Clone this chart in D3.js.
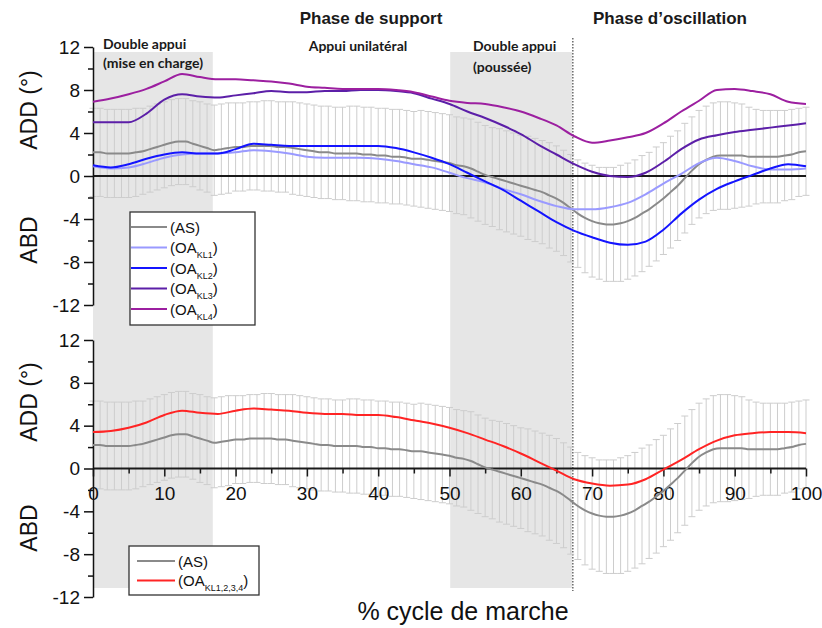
<!DOCTYPE html>
<html>
<head>
<meta charset="utf-8">
<script src="https://cdn.jsdelivr.net/npm/d3@7"></script>
<style>
  body { margin: 0; background: #fff; }
  svg { display: block; font-family: "Liberation Sans", Arial, sans-serif; }
</style>
</head>
<body>
<svg id="chart" width="822" height="628"></svg>
<script>
// Gait cycle, % (1 % steps for the asymptomatic group and its SD bars)
const cyclePct = d3.range(0, 101);

// Asymptomatic group (AS): mean hip adduction and standard deviation, degrees
const asMean = [
  2.2, 2.2, 2.1, 2.1, 2.1, 2.1, 2.2, 2.3, 2.5, 2.7,
  2.9, 3.1, 3.2, 3.2, 3.0, 2.8, 2.6, 2.4, 2.5, 2.6,
  2.7, 2.7, 2.8, 2.8, 2.8, 2.8, 2.7, 2.7, 2.6, 2.5,
  2.4, 2.3, 2.2, 2.2, 2.1, 2.1, 2.1, 2.1, 2.0, 2.0,
  1.9, 1.9, 1.8, 1.8, 1.7, 1.6, 1.6, 1.5, 1.4, 1.3,
  1.2, 1.0, 0.9, 0.7, 0.4, 0.1, -0.1, -0.3, -0.5, -0.7,
  -0.9, -1.1, -1.3, -1.5, -1.8, -2.1, -2.5, -3.0, -3.5, -3.9,
  -4.2, -4.4, -4.5, -4.5, -4.4, -4.2, -3.9, -3.5, -3.1, -2.6,
  -2.1, -1.5, -0.9, -0.2, 0.5, 1.1, 1.5, 1.8, 1.9, 1.9,
  1.9, 1.9, 1.8, 1.8, 1.8, 1.8, 1.8, 1.9, 2.0, 2.2,
  2.3
];
const asSD = [
  4.1, 4.1, 4.1, 4.1, 4.1, 4.1, 4.1, 4.0, 4.0, 4.0,
  4.0, 4.0, 4.0, 4.0, 4.0, 4.1, 4.1, 4.2, 4.2, 4.2,
  4.1, 4.1, 4.1, 4.1, 4.2, 4.2, 4.2, 4.2, 4.3, 4.3,
  4.3, 4.3, 4.3, 4.3, 4.3, 4.3, 4.4, 4.4, 4.4, 4.4,
  4.4, 4.4, 4.4, 4.4, 4.4, 4.4, 4.5, 4.5, 4.5, 4.5,
  4.5, 4.5, 4.5, 4.6, 4.6, 4.6, 4.6, 4.7, 4.7, 4.7,
  4.7, 4.8, 4.8, 4.8, 4.9, 4.9, 4.9, 5.0, 5.0, 5.1,
  5.2, 5.2, 5.3, 5.3, 5.4, 5.4, 5.4, 5.4, 5.3, 5.3,
  5.2, 5.2, 5.1, 5.1, 5.0, 5.0, 5.0, 5.0, 5.0, 5.0,
  4.9, 4.8, 4.6, 4.4, 4.3, 4.3, 4.3, 4.2, 4.2, 4.1,
  4.1
];

// Osteoarthritis groups (OA), sampled every 2.5 % of the cycle
const groupPct = d3.range(0, 100.1, 2.5);
const oaKL1 = [
  0.9, 0.7, 0.8, 1.2, 1.7, 2.0, 2.1, 2.1, 2.2, 2.4,
  2.3, 2.1, 1.8, 1.7, 1.7, 1.7, 1.6, 1.4, 1.1, 0.8,
  0.3, -0.2, -0.6, -1.2, -1.7, -2.3, -2.8, -3.1, -3.1, -2.9,
  -2.5, -1.7, -0.7, 0.2, 1.2, 1.7, 1.4, 0.9, 0.6, 0.6,
  0.7
];
const oaKL2 = [
  1.0, 0.8, 1.1, 1.6, 2.0, 2.2, 2.1, 2.1, 2.5, 3.0,
  2.9, 2.8, 2.8, 2.8, 2.8, 2.8, 2.8, 2.6, 2.2, 1.7,
  1.1, 0.3, -0.5, -1.3, -2.3, -3.3, -4.3, -5.1, -5.7, -6.2,
  -6.4, -6.1, -5.0, -3.5, -2.2, -1.2, -0.5, 0.1, 0.7, 1.1,
  0.9
];
const oaKL3 = [
  5.0, 5.0, 5.0, 5.8, 7.1, 7.6, 7.4, 7.3, 7.5, 7.7,
  7.9, 7.8, 7.8, 7.9, 7.9, 8.0, 8.0, 7.9, 7.7, 7.2,
  6.7, 6.0, 5.4, 4.7, 3.9, 2.9, 2.0, 1.1, 0.4, 0.0,
  -0.1, 0.3, 1.3, 2.5, 3.4, 3.8, 4.1, 4.3, 4.5, 4.7,
  4.9
];
const oaKL4 = [
  6.9, 7.2, 7.6, 8.1, 8.8, 9.5, 9.2, 9.0, 9.0, 8.9,
  8.8, 8.6, 8.3, 8.2, 8.1, 8.1, 8.1, 8.0, 7.8, 7.4,
  7.0, 6.8, 6.7, 6.4, 6.0, 5.4, 4.7, 3.7, 3.1, 3.3,
  3.6, 4.0, 4.9, 6.0, 7.0, 8.0, 8.1, 7.9, 7.6, 6.9,
  6.7
];
const oaAll = [
  3.4, 3.5, 3.8, 4.3, 5.0, 5.4, 5.2, 5.1, 5.4, 5.6,
  5.5, 5.4, 5.2, 5.1, 5.1, 5.0, 5.0, 4.8, 4.5, 4.2,
  3.8, 3.3, 2.7, 2.1, 1.4, 0.6, -0.2, -1.0, -1.4, -1.6,
  -1.5, -1.0, -0.1, 0.8, 1.8, 2.6, 3.1, 3.3, 3.4, 3.4,
  3.3
];

// Axis ticks
const yTicks = [-12, -8, -4, 0, 4, 8, 12];
const yMinorTicks = [-10, -6, -2, 2, 6, 10];
const xTicks = [0, 10, 20, 30, 40, 50, 60, 70, 80, 90, 100];
const xMinorTicks = [5, 15, 25, 35, 45, 55, 65, 75, 85, 95];

// Double-support periods and toe-off, % of cycle
const doubleSupport = [[0, 16.8], [50.1, 67.2]];
const toeOff = 67.3;

const svg = d3.select("#chart");
const x = d3.scaleLinear([0, 100], [93, 806]);
const yTop = d3.scaleLinear([-12, 12], [305, 47]);
const yBot = d3.scaleLinear([-12, 12], [597, 340]);

const colors = {
  AS: "#8a8a8a",
  KL1: "#9a9aff",
  KL2: "#1414ff",
  KL3: "#5c1fa8",
  KL4: "#9c1fa0",
  ALL: "#ff2424"
};

// Double-support shading spanning both panels
svg.append("g").selectAll("rect").data(doubleSupport).join("rect")
  .attr("x", d => x(d[0]))
  .attr("width", d => x(d[1]) - x(d[0]))
  .attr("y", 52)
  .attr("height", 536)
  .attr("fill", "#e6e6e6");

// Toe-off marker
svg.append("line")
  .attr("x1", x(toeOff)).attr("x2", x(toeOff))
  .attr("y1", 38).attr("y2", 591)
  .attr("stroke", "#444").attr("stroke-width", 1.2)
  .attr("stroke-dasharray", "1.5,1.5");

function drawPanel(y, series, withXAxis) {
  const g = svg.append("g");

  // SD bars of the asymptomatic group
  const bars = g.append("g").attr("stroke", "#cdcdcd").attr("stroke-width", 1);
  cyclePct.forEach((p, i) => {
    const lo = y(asMean[i] - asSD[i]);
    const hi = y(asMean[i] + asSD[i]);
    bars.append("line").attr("x1", x(p)).attr("x2", x(p)).attr("y1", lo).attr("y2", hi);
    bars.append("line").attr("x1", x(p) - 3.5).attr("x2", x(p) + 3.5).attr("y1", lo).attr("y2", lo);
    bars.append("line").attr("x1", x(p) - 3.5).attr("x2", x(p) + 3.5).attr("y1", hi).attr("y2", hi);
  });

  // Zero line
  g.append("line")
    .attr("x1", x(0)).attr("x2", x(100))
    .attr("y1", y(0)).attr("y2", y(0))
    .attr("stroke", "#1a1a1a").attr("stroke-width", 2);

  if (withXAxis) {
    const ax = g.append("g")
      .attr("transform", `translate(0,${y(0)})`)
      .call(d3.axisBottom(x).tickValues(xTicks).tickSize(8).tickSizeOuter(0)
        .tickPadding(10).tickFormat(d => String(d)));
    ax.select(".domain").remove();
    ax.selectAll("line").attr("stroke", "#1a1a1a").attr("stroke-width", 1.5);
    ax.selectAll("text").attr("font-size", 19).attr("fill", "#111")
      .attr("font-family", "Liberation Sans, Arial, sans-serif");
    const axm = g.append("g")
      .attr("transform", `translate(0,${y(0)})`)
      .call(d3.axisBottom(x).tickValues(xMinorTicks).tickSize(5).tickFormat(""));
    axm.select(".domain").remove();
    axm.selectAll("line").attr("stroke", "#1a1a1a").attr("stroke-width", 1.5);
  }

  // Y axis
  const ay = g.append("g")
    .attr("transform", `translate(${x(0)},0)`)
    .call(d3.axisLeft(y).tickValues(yTicks).tickSize(9).tickSizeOuter(0)
      .tickPadding(4).tickFormat(d => String(d)));
  ay.select(".domain").attr("stroke", "#111").attr("stroke-width", 1.5);
  ay.selectAll("line").attr("stroke", "#111").attr("stroke-width", 1.5);
  ay.selectAll("text").attr("font-size", 19).attr("fill", "#111")
    .attr("font-family", "Liberation Sans, Arial, sans-serif");
  const aym = g.append("g")
    .attr("transform", `translate(${x(0)},0)`)
    .call(d3.axisLeft(y).tickValues(yMinorTicks).tickSize(5).tickFormat(""));
  aym.select(".domain").remove();
  aym.selectAll("line").attr("stroke", "#111").attr("stroke-width", 1.5);

  // Mean curves
  const line = d3.line().curve(d3.curveMonotoneX);
  series.forEach(s => {
    g.append("path")
      .attr("d", line(s.pct.map((p, i) => [x(p), y(s.values[i])])))
      .attr("fill", "none")
      .attr("stroke", s.color)
      .attr("stroke-width", 2);
  });
}

const asSeries = { pct: cyclePct, values: asMean, color: colors.AS };
drawPanel(yTop, [
  asSeries,
  { pct: groupPct, values: oaKL1, color: colors.KL1 },
  { pct: groupPct, values: oaKL2, color: colors.KL2 },
  { pct: groupPct, values: oaKL3, color: colors.KL3 },
  { pct: groupPct, values: oaKL4, color: colors.KL4 }
], false);
drawPanel(yBot, [
  asSeries,
  { pct: groupPct, values: oaAll, color: colors.ALL }
], true);

// Y axis titles
function yTitle(text, cy) {
  svg.append("text")
    .attr("transform", `translate(37,${cy}) rotate(-90)`)
    .attr("text-anchor", "middle")
    .attr("font-size", 23).attr("fill", "#111")
    .text(text);
}
yTitle("ADD (°)", 110);
yTitle("ABD", 240);
yTitle("ADD (°)", 402);
yTitle("ABD", 528);

// X axis title
svg.append("text")
  .attr("x", 463).attr("y", 620)
  .attr("text-anchor", "middle")
  .attr("font-size", 25).attr("fill", "#111")
  .text("% cycle de marche");

// Phase headings
svg.append("text").attr("x", 371).attr("y", 24).attr("text-anchor", "middle")
  .attr("font-size", 17).attr("font-weight", "bold").attr("fill", "#1a1a1a")
  .text("Phase de support");
svg.append("text").attr("x", 670).attr("y", 24).attr("text-anchor", "middle")
  .attr("font-size", 17).attr("font-weight", "bold").attr("fill", "#1a1a1a")
  .text("Phase d’oscillation");

// Sub-phase notes
const note = (t, px, py, anchor) => svg.append("text")
  .attr("x", px).attr("y", py).attr("text-anchor", anchor || "start")
  .attr("font-family", "Lato, 'Open Sans', sans-serif")
  .attr("font-weight", "bold").attr("font-size", 14).attr("fill", "#1a1a1a")
  .text(t);
note("Double appui", 103, 49);
note("(mise en charge)", 103, 68);
note("Appui unilatéral", 358, 51, "middle");
note("Double appui", 473, 51);
note("(poussée)", 473, 72);

// Legends
function legend(box, items, lineX0, lineX1, textX, rowY, rowStep) {
  svg.append("rect")
    .attr("x", box[0]).attr("y", box[1]).attr("width", box[2]).attr("height", box[3])
    .attr("fill", "#fff").attr("stroke", "#333").attr("stroke-width", 1.3);
  items.forEach((it, i) => {
    const cy = rowY + i * rowStep;
    svg.append("line")
      .attr("x1", lineX0).attr("x2", lineX1).attr("y1", cy).attr("y2", cy)
      .attr("stroke", it.color).attr("stroke-width", 2);
    const t = svg.append("text").attr("x", textX).attr("y", cy + 5.5)
      .attr("font-size", 15).attr("fill", "#111");
    t.append("tspan").text(it.main);
    if (it.sub) {
      t.append("tspan").attr("font-size", 9).attr("dy", 5).text(it.sub);
      t.append("tspan").attr("dy", -5).text(")");
    }
  });
}
legend([130, 212, 125, 113], [
  { main: "(AS)", color: colors.AS },
  { main: "(OA", sub: "KL1", color: colors.KL1 },
  { main: "(OA", sub: "KL2", color: colors.KL2 },
  { main: "(OA", sub: "KL3", color: colors.KL3 },
  { main: "(OA", sub: "KL4", color: colors.KL4 }
], 131, 167, 170, 227, 20.5);
legend([129, 546, 130, 49], [
  { main: "(AS)", color: colors.AS },
  { main: "(OA", sub: "KL1,2,3,4", color: colors.ALL }
], 137, 175, 178, 561, 19.5);
</script>
</body>
</html>
